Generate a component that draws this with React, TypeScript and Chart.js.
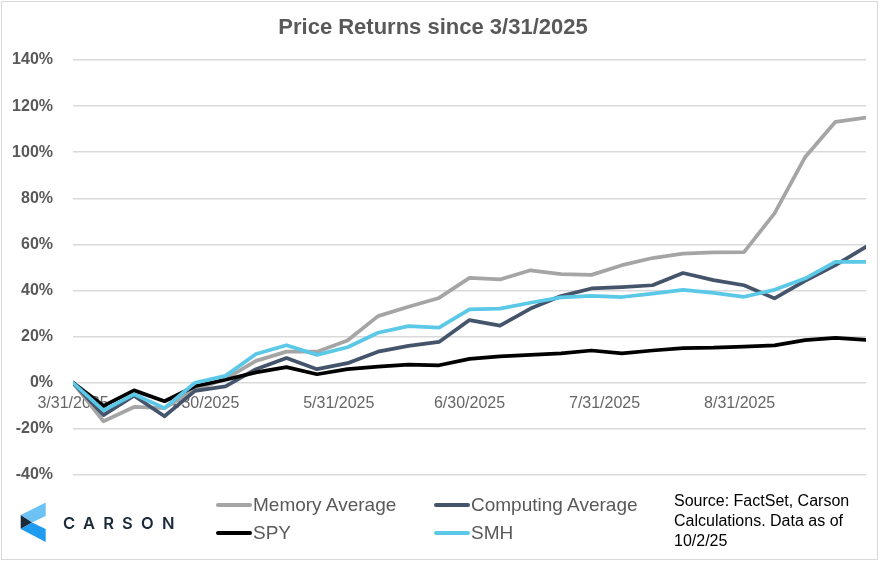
import React, { useEffect, useRef } from "react";
import { Chart, registerables } from "chart.js";

Chart.register(...registerables);

// ---- Data ----
const weekDates = [
  "3/31/2025", "4/7/2025", "4/14/2025", "4/21/2025", "4/28/2025", "5/5/2025", "5/12/2025",
  "5/19/2025", "5/26/2025", "6/2/2025", "6/9/2025", "6/16/2025", "6/23/2025", "6/30/2025",
  "7/7/2025", "7/14/2025", "7/21/2025", "7/28/2025", "8/4/2025", "8/11/2025", "8/18/2025",
  "8/25/2025", "9/1/2025", "9/8/2025", "9/15/2025", "9/22/2025", "9/29/2025",
];
const monthTickLabels = ["3/31/2025", "4/30/2025", "5/31/2025", "6/30/2025", "7/31/2025", "8/31/2025"];
const yTickValues = [-40, -20, 0, 20, 40, 60, 80, 100, 120, 140];

const memoryAverage = [
  0, -16.7, -10.5, -11, -3, 1.7, 9.5, 13.5, 13.5, 18.3, 28.9, 33, 36.8, 45.5,
  44.8, 48.8, 47.1, 46.8, 51, 54.1, 56, 56.6, 56.7, 73.5, 97.8, 113.2, 115,
];
const computingAverage = [
  0, -14, -5.6, -14.5, -3.5, -1.6, 5.9, 10.7, 5.9, 8.5, 13.5, 16, 17.7, 27.2,
  24.8, 32.2, 37.6, 40.9, 41.5, 42.3, 47.6, 44.5, 42.3, 36.6, 44.2, 51, 59,
];
const spy = [
  0, -10, -3.3, -8, -1.5, 1.3, 4.5, 6.8, 3.7, 5.9, 7, 7.9, 7.6, 10.4,
  11.4, 12.1, 12.8, 14, 12.8, 14, 15, 15.2, 15.7, 16.2, 18.5, 19.5, 18.6,
];
const smh = [
  0, -12, -5, -11, 0, 3, 12.5, 16.3, 12.1, 15.4, 21.7, 24.6, 23.9, 31.8,
  32.2, 34.7, 37, 37.7, 37.2, 38.7, 40.3, 39, 37.3, 40.3, 45.2, 52.4, 52.4,
];

const seriesNames = ["Memory Average", "Computing Average", "SPY", "SMH"];
const seriesColors = ["#a5a5a5", "#44546a", "#000000", "#5bc8e8"];
const chartTitle = "Price Returns since 3/31/2025";
const sourceLines = ["Source: FactSet, Carson", "Calculations. Data as of", "10/2/25"];

// ---- helpers ----
const toDay = (s: string) => {
  const [m, d, y] = s.split("/").map(Number);
  return Date.UTC(y, m - 1, d) / 86400000;
};
const baseDay = toDay(weekDates[0]);
const weekX = weekDates.map((s) => toDay(s) - baseDay);
const monthX = monthTickLabels.map((s) => toDay(s) - baseDay);

const FONT = "'Liberation Sans', Arial, sans-serif";

export default function App() {
  const canvasRef = useRef<HTMLCanvasElement | null>(null);

  useEffect(() => {
    const canvas = canvasRef.current;
    if (!canvas) return;
    const allSeries = [memoryAverage, computingAverage, spy, smh];
    const chart = new Chart(canvas, {
      type: "line",
      data: {
        datasets: allSeries.map((vals, k) => ({
          label: seriesNames[k],
          data: vals.map((v, i) => ({ x: weekX[i], y: v })),
          borderColor: seriesColors[k],
          backgroundColor: seriesColors[k],
          borderWidth: 3.75,
          pointRadius: 0,
          tension: 0,
          fill: false,
          borderJoinStyle: "round",
          borderCapStyle: "round",
          order: [4, 3, 2, 1][k],
        })),
      },
      options: {
        responsive: false,
        animation: false,
        layout: { padding: { left: 0, right: 15, top: 0, bottom: 88 } },
        plugins: {
          legend: { display: false },
          tooltip: { enabled: false },
          title: {
            display: true,
            text: chartTitle,
            color: "#595959",
            font: { family: FONT, size: 22, weight: "bold" },
            padding: { top: 15, bottom: 18.6 },
          },
        },
        scales: {
          x: {
            type: "linear",
            min: weekX[0],
            max: weekX[weekX.length - 1],
            position: { y: 0 } as any,
            grid: { display: false, drawTicks: false },
            border: { display: false },
            afterBuildTicks: (s: any) => {
              s.ticks = monthX.map((v) => ({ value: v }));
            },
            ticks: {
              autoSkip: false,
              maxRotation: 0,
              padding: 11,
              color: "#666666",
              font: { family: FONT, size: 16 },
              callback: (v: any) => {
                const idx = monthX.indexOf(Number(v));
                return idx >= 0 ? monthTickLabels[idx] : "";
              },
            },
          },
          y: {
            type: "linear",
            min: yTickValues[0],
            max: yTickValues[yTickValues.length - 1],
            afterBuildTicks: (s: any) => {
              s.ticks = yTickValues.map((v) => ({ value: v }));
            },
            afterFit: (s: any) => {
              s.width = 73;
            },
            grid: { color: "#d9d9d9", lineWidth: 1.5, drawTicks: false },
            border: { display: false },
            ticks: {
              padding: 20,
              color: "#595959",
              font: { family: FONT, size: 16, weight: "bold" },
              callback: (v: any) => `${v}%`,
            },
          },
        },
      },
    });
    return () => chart.destroy();
  }, []);

  const legendItems = [
    { name: seriesNames[0], color: seriesColors[0], x: 216, y: 505 },
    { name: seriesNames[1], color: seriesColors[1], x: 434, y: 505 },
    { name: seriesNames[2], color: seriesColors[2], x: 216, y: 533 },
    { name: seriesNames[3], color: seriesColors[3], x: 434, y: 533 },
  ];

  return (
    <div
      style={{
        position: "absolute",
        left: 0,
        top: 0,
        width: 881,
        height: 563,
        background: "#ffffff",
        overflow: "hidden",
        fontFamily: FONT,
      }}
    >
      <canvas ref={canvasRef} width={881} height={563} style={{ position: "absolute", left: 0, top: 0 }} />
      <div
        style={{
          position: "absolute",
          left: 1,
          top: 1,
          width: 877,
          height: 559,
          border: "1.5px solid #d9d9d9",
          boxSizing: "border-box",
          pointerEvents: "none",
        }}
      />
      {legendItems.map((it) => (
        <div key={it.name}>
          <div
            style={{
              position: "absolute",
              left: it.x,
              top: it.y - 2,
              width: 36,
              height: 4,
              background: it.color,
              borderRadius: 2,
            }}
          />
          <div
            style={{
              position: "absolute",
              left: it.x + 37,
              top: it.y - 12,
              height: 24,
              lineHeight: "24px",
              fontSize: 19,
              color: "#595959",
              whiteSpace: "nowrap",
            }}
          >
            {it.name}
          </div>
        </div>
      ))}
      <div
        style={{
          position: "absolute",
          left: 674,
          top: 491,
          fontSize: 16,
          lineHeight: "20px",
          color: "#000000",
          whiteSpace: "nowrap",
        }}
      >
        {sourceLines.map((l) => (
          <div key={l}>{l}</div>
        ))}
      </div>
      <svg
        width={60}
        height={60}
        viewBox="0 0 60 60"
        style={{ position: "absolute", left: 0, top: 490 }}
      >
        <polygon points="20.7,25 45.7,12.5 45.7,26 32,32.5" fill="#6cc2f5" />
        <polygon points="20.7,25 32,32.5 20.7,39" fill="#1b2a3a" />
        <polygon points="20.7,39 32,32.5 45.7,39 45.7,52" fill="#1f9cf0" />
      </svg>
      <div
        style={{
          position: "absolute",
          left: 63,
          top: 512,
          height: 22,
          lineHeight: "22px",
          fontFamily: "Inter, 'Noto Sans', sans-serif",
          fontWeight: 600,
          fontSize: 16.5,
          letterSpacing: 8.2,
          color: "#1b2a3a",
          whiteSpace: "nowrap",
        }}
      >
        CARSON
      </div>
    </div>
  );
}
